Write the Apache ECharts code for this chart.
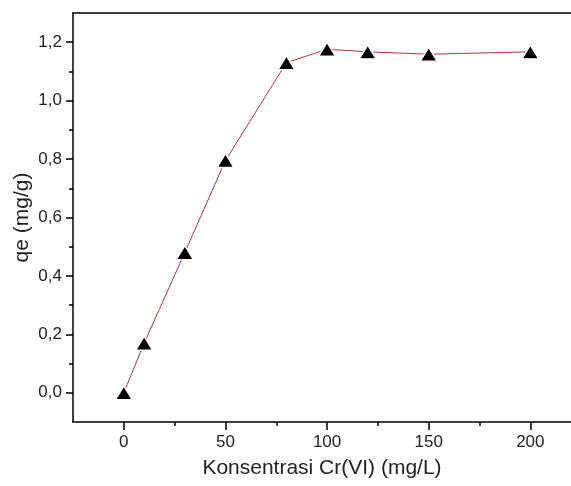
<!DOCTYPE html>
<html><head><meta charset="utf-8">
<script src="https://cdn.jsdelivr.net/npm/echarts@6/dist/echarts.min.js"></script>
<style>html,body{margin:0;padding:0;background:#fff}#c{width:571px;height:486px}</style>
</head><body><div id="c"></div>
<script>
const concentration = [0, 10, 30, 50, 80, 100, 120, 150, 200];
const qe = [0.0, 0.17, 0.48, 0.795, 1.13, 1.176, 1.167, 1.159, 1.167];
const xMajorTicks = [0, 50, 100, 150, 200];
const xMinorTicks = [25, 75, 125, 175];
const yMajorTicks = [0, 0.2, 0.4, 0.6, 0.8, 1.0, 1.2];
const yMinorTicks = [0.1, 0.3, 0.5, 0.7, 0.9, 1.1];
const xTitle = 'Konsentrasi Cr(VI) (mg/L)';
const yTitle = 'qe (mg/g)';

const FONT = 'Liberation Sans';
const chart = echarts.init(document.getElementById('c'), null, {renderer: 'canvas'});
const xr = {min: -25, max: 220};
const yr = {min: -0.1, max: 1.3};
const lineStyle = {color: '#000', width: 1.5};
chart.setOption({
  animation: false,
  backgroundColor: '#fff',
  grid: {left: 73, right: 0, top: 13, bottom: 64, containLabel: false, outerBoundsMode: 'none'},
  xAxis: [
    {type: 'value', ...xr, position: 'bottom',
     axisLine: {show: true, onZero: false, lineStyle},
     axisTick: {show: true, customValues: xMajorTicks, length: 8, inside: false, lineStyle: {color: '#000', width: 1.5}},
     axisLabel: {customValues: xMajorTicks, color: '#222', fontFamily: FONT, fontSize: 17, margin: 12},
     splitLine: {show: false},
     name: xTitle, nameLocation: 'middle', nameGap: 36, nameMoveOverlap: false,
     nameTextStyle: {color: '#222', fontFamily: FONT, fontSize: 21}},
    {type: 'value', ...xr, position: 'bottom',
     axisLine: {show: false, onZero: false},
     axisTick: {show: true, customValues: xMinorTicks, length: 4, lineStyle: {color: '#000', width: 1.5}},
     axisLabel: {show: false}, splitLine: {show: false}},
    {type: 'value', ...xr, position: 'top',
     axisLine: {show: true, onZero: false, lineStyle},
     axisTick: {show: false}, axisLabel: {show: false}, splitLine: {show: false}}
  ],
  yAxis: [
    {type: 'value', ...yr, position: 'left',
     axisLine: {show: true, onZero: false, lineStyle},
     axisTick: {show: true, customValues: yMajorTicks, length: 7, lineStyle: {color: '#000', width: 1.5}},
     axisLabel: {customValues: yMajorTicks, color: '#222', fontFamily: FONT, fontSize: 17, margin: 11,
       formatter: v => v.toFixed(1).replace('.', ',')},
     splitLine: {show: false},
     name: yTitle, nameLocation: 'middle', nameGap: 40, nameRotate: 90, nameMoveOverlap: false,
     nameTextStyle: {color: '#222', fontFamily: FONT, fontSize: 21}},
    {type: 'value', ...yr, position: 'left',
     axisLine: {show: false, onZero: false},
     axisTick: {show: true, customValues: yMinorTicks, length: 4, lineStyle: {color: '#000', width: 1.5}},
     axisLabel: {show: false}, splitLine: {show: false}}
  ],
  series: [{
    type: 'line',
    data: concentration.map((x, i) => [x, qe[i]]),
    symbol: 'triangle', symbolSize: [17, 14],
    itemStyle: {color: '#000', borderColor: '#fff', borderWidth: 1.5},
    lineStyle: {color: '#b8323a', width: 1},
    z: 3
  }]
});
</script></body></html>
